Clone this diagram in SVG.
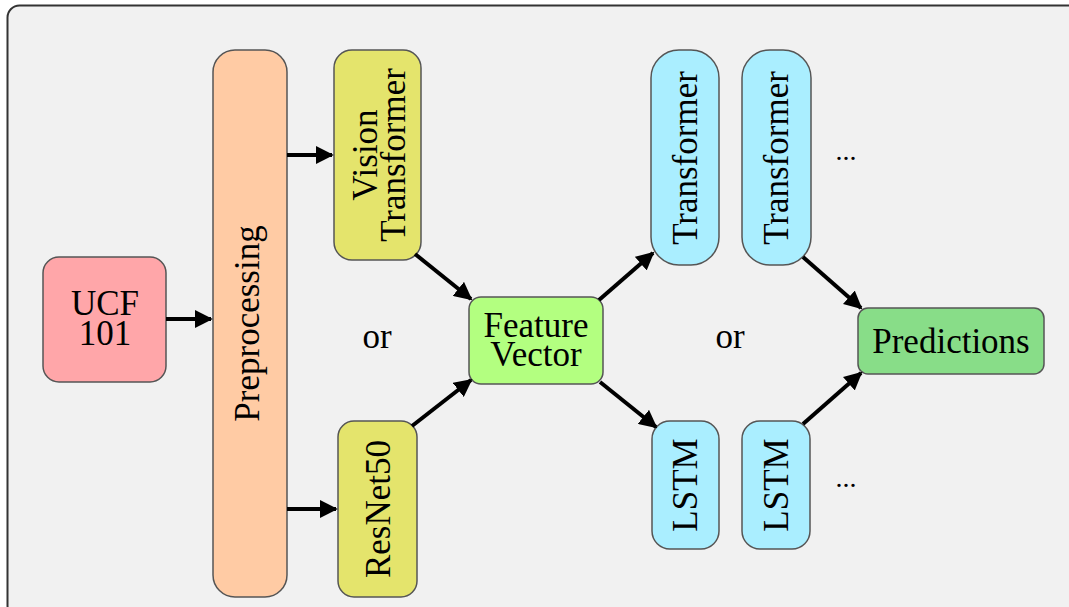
<svg xmlns="http://www.w3.org/2000/svg" width="1069" height="607" viewBox="0 0 1069 607">
<style>
.t{font-family:"Liberation Serif","Times New Roman",serif;font-size:35px;fill:#000;text-anchor:middle}
.box{stroke:#555;stroke-width:1.5}
.c{stroke:#000;stroke-width:4;fill:none;marker-end:url(#ah)}
</style>
<defs>
<marker id="ah" viewBox="0 0 10 10" refX="9" refY="5" markerWidth="4.5" markerHeight="4.5" markerUnits="strokeWidth" orient="auto">
<path d="M0,0 L10,5 L0,10 z" fill="#000"/>
</marker>
</defs>
<rect x="7.5" y="5.5" width="1075" height="612" rx="12" fill="#f1f1f1" stroke="#333" stroke-width="2"/>
<g id="ucf101"><rect class="box" x="43" y="257" width="123" height="125" rx="16" fill="#ffa6a9"/>
<text class="t" x="105" y="315">UCF</text><text class="t" x="105" y="345">101</text></g>
<g id="preprocessing"><rect class="box" x="213" y="50" width="74" height="547" rx="22" fill="#ffcba4"/>
<text class="t" transform="translate(259,323.5) rotate(-90)" x="0" y="0">Preprocessing</text></g>
<g id="vit"><rect class="box" x="334" y="50" width="87" height="210" rx="18" fill="#e4e46c"/>
<text class="t" transform="translate(377,155) rotate(-90)">Vision</text>
<text class="t" transform="translate(405,155) rotate(-90)">Transformer</text></g>
<g id="resnet50"><rect class="box" x="338" y="421" width="79" height="176" rx="16" fill="#e4e46c"/>
<text class="t" transform="translate(390,509) rotate(-90)">ResNet50</text></g>
<g id="feature"><rect class="box" x="469" y="297" width="134" height="87" rx="12" fill="#b3ff80"/>
<text class="t" x="536" y="337">Feature</text><text class="t" x="536" y="366">Vector</text></g>
<g id="transformer1"><rect class="box" x="651" y="50" width="68" height="215" rx="28" fill="#aaeeff"/>
<text class="t" transform="translate(697,158) rotate(-90)">Transformer</text></g>
<g id="lstm1"><rect class="box" x="652" y="421" width="67" height="128" rx="18" fill="#aaeeff"/>
<text class="t" transform="translate(697,485) rotate(-90)">LSTM</text></g>
<g id="transformer2"><rect class="box" x="742" y="50" width="69" height="215" rx="28" fill="#aaeeff"/>
<text class="t" transform="translate(788,158) rotate(-90)">Transformer</text></g>
<g id="lstm2"><rect class="box" x="742" y="421" width="68" height="128" rx="18" fill="#aaeeff"/>
<text class="t" transform="translate(788,485) rotate(-90)">LSTM</text></g>
<g id="predictions"><rect class="box" x="858" y="308" width="186" height="66" rx="10" fill="#88dd88"/>
<text class="t" x="951" y="353">Predictions</text></g>
<g id="labels">
<text class="t" x="377" y="348">or</text>
<text class="t" x="730" y="348">or</text>
<text class="t" x="846" y="160" style="font-size:28px">...</text>
<text class="t" x="846" y="487" style="font-size:28px">...</text>
</g>
<g id="connectors">
<line class="c" x1="166" y1="319" x2="211" y2="319"/>
<line class="c" x1="287" y1="155" x2="332" y2="155"/>
<line class="c" x1="287" y1="509" x2="336" y2="509"/>
<line class="c" x1="415" y1="254" x2="471" y2="299"/>
<line class="c" x1="412" y1="426" x2="471" y2="380"/>
<line class="c" x1="599" y1="300" x2="653" y2="253"/>
<line class="c" x1="600" y1="382" x2="656" y2="427"/>
<line class="c" x1="803" y1="257" x2="861" y2="308"/>
<line class="c" x1="803" y1="424" x2="861" y2="373"/>
</g>
</svg>
